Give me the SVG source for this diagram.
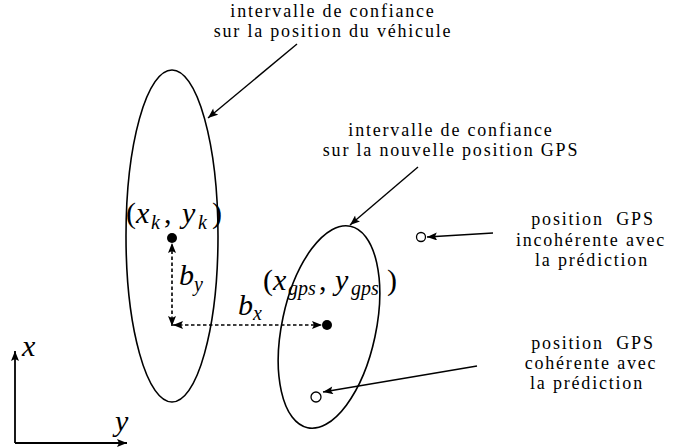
<svg xmlns="http://www.w3.org/2000/svg" width="674" height="448" viewBox="0 0 674 448">
<style>
.lbl{font-family:"Liberation Serif","Times New Roman",serif;font-size:18px;letter-spacing:1.8px;fill:#000;text-anchor:middle;white-space:pre}
.m{font-family:"Liberation Serif","Times New Roman",serif;font-style:italic;font-size:30px;fill:#000}
.mr{font-style:normal}
.s{font-size:20px}
.ell{fill:none;stroke:#000;stroke-width:1.6}
.con{fill:none;stroke:#000;stroke-width:1.4}
.dash{fill:none;stroke:#000;stroke-width:1.6;stroke-dasharray:3.5 2.5}
.ax{fill:none;stroke:#000;stroke-width:1.8}
</style>
<defs>
<marker id="ah" viewBox="0 0 10 8" refX="10" refY="4" markerWidth="11" markerHeight="8" markerUnits="userSpaceOnUse" orient="auto-start-reverse">
<path d="M0,0 L10,4 L0,8 L2,4 z" fill="#000"/>
</marker>
</defs>
<rect width="674" height="448" fill="#fff"/>

<g id="ellipse-vehicle"><ellipse class="ell" cx="172" cy="236" rx="46" ry="166"/></g>
<g id="ellipse-gps"><ellipse class="ell" cx="329" cy="327" rx="47" ry="103" transform="rotate(12 329 327)"/></g>

<g id="point-k">
<circle cx="172" cy="238" r="5" fill="#000"/>
<text class="m" y="223"><tspan x="126" class="mr">(</tspan><tspan x="136">x</tspan><tspan x="151" y="229" class="s">k</tspan><tspan x="164" y="223" class="mr">,</tspan><tspan x="182">y</tspan><tspan x="198" y="229" class="s">k</tspan><tspan x="212" y="223" class="mr">)</tspan></text>
</g>
<g id="point-gps">
<circle cx="327" cy="325" r="5" fill="#000"/>
<text class="m" y="290"><tspan x="263" class="mr">(</tspan><tspan x="273">x</tspan><tspan x="288" y="295" class="s">gps</tspan><tspan x="319" y="290" class="mr">,</tspan><tspan x="335">y</tspan><tspan x="351" y="295" class="s">gps</tspan><tspan x="387" y="290" class="mr">)</tspan></text>
</g>
<g id="point-incoherent"><circle cx="421" cy="237" r="4.5" fill="#fff" stroke="#000" stroke-width="1.3"/></g>
<g id="point-coherent"><circle cx="316" cy="397" r="5" fill="#fff" stroke="#000" stroke-width="1.3"/></g>

<g id="label-vehicle">
<text class="lbl" x="333" y="17">intervalle de confiance</text>
<text class="lbl" x="333" y="37">sur la position du véhicule</text>
</g>
<g id="label-gps">
<text class="lbl" x="451" y="136">intervalle de confiance</text>
<text class="lbl" x="451" y="156">sur la nouvelle position GPS</text>
</g>
<g id="label-incoherent">
<text class="lbl" x="593" y="225">position  GPS</text>
<text class="lbl" x="591" y="246">incohérente avec</text>
<text class="lbl" x="592" y="266">la prédiction</text>
</g>
<g id="label-coherent">
<text class="lbl" x="593" y="349">position  GPS</text>
<text class="lbl" x="591" y="369">cohérente avec</text>
<text class="lbl" x="587" y="389">la prédiction</text>
</g>

<g id="bias-labels">
<text class="m" x="179" y="285">b<tspan class="s" y="291">y</tspan></text>
<text class="m" x="238" y="315">b<tspan class="s" y="320">x</tspan></text>
</g>

<g id="axes">
<path class="ax" d="M15,443 L15,351" marker-end="url(#ah)"/>
<path class="ax" d="M15,443 L127,443" marker-end="url(#ah)"/>
<text class="m" x="22" y="356">x</text>
<text class="m" x="115" y="431">y</text>
</g>

<g id="connectors">
<path class="dash" d="M172,326 L172,243" marker-start="url(#ah)" marker-end="url(#ah)"/>
<path class="dash" d="M173,325 L322,325" marker-start="url(#ah)" marker-end="url(#ah)"/>
<path class="con" d="M297,44 L208,118" marker-end="url(#ah)"/>
<path class="con" d="M418,167 L350,225" marker-end="url(#ah)"/>
<path class="con" d="M493,233 L427,237" marker-end="url(#ah)"/>
<path class="con" d="M477,366 L323,392" marker-end="url(#ah)"/>
</g>
</svg>
